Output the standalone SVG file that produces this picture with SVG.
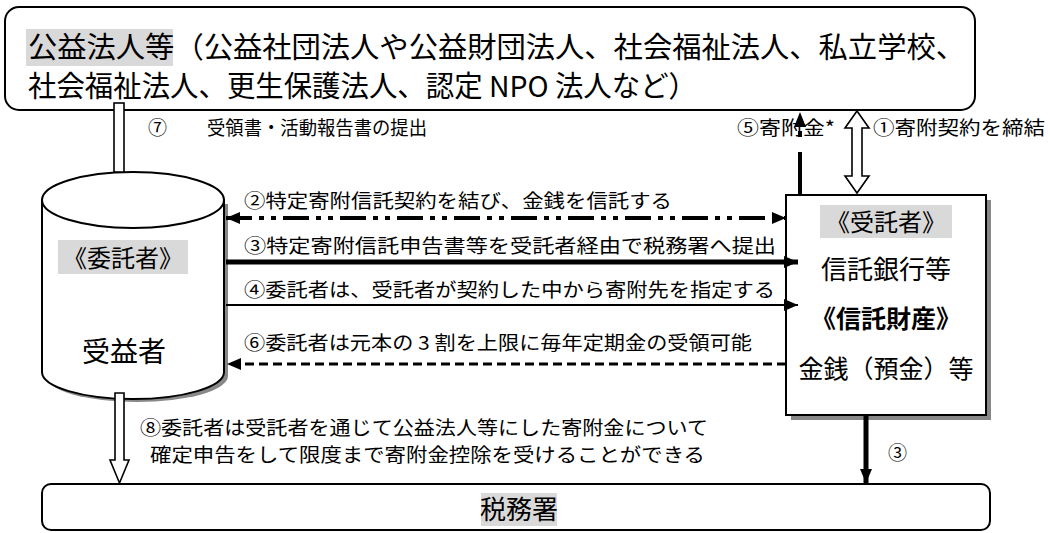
<svg xmlns="http://www.w3.org/2000/svg" width="1050" height="533" viewBox="0 0 1050 533">
<style>
text{font-family:"Noto Sans CJK JP","Noto Sans",sans-serif;fill:#000}
.lbl{font-size:19px}
.big{font-size:29px}
.box{fill:#fff;stroke:#000;stroke-width:2}
.hl{fill:#d9d9d9}
.sh{fill:#888}
.hollow{fill:#fff;stroke:#000;stroke-width:1.6}
</style>
<defs>
<marker id="ah" viewBox="0 0 14 12" refX="14" refY="6" markerWidth="14" markerHeight="12" markerUnits="userSpaceOnUse" orient="auto-start-reverse"><path d="M0,0 L14,6 L0,12 Z" fill="#000"/></marker>
</defs>

<g id="top-node">
<rect class="box" x="5" y="7" width="970" height="103" rx="14"/>
<rect class="hl" x="26" y="29" width="147" height="37"/>
<text class="big" x="28" y="58" textLength="937" lengthAdjust="spacingAndGlyphs">公益法人等（公益社団法人や公益財団法人、社会福祉法人、私立学校、</text>
<text class="big" x="28" y="97" textLength="669" lengthAdjust="spacingAndGlyphs">社会福祉法人、更生保護法人、認定 NPO 法人など）</text>
</g>

<g id="itakusha-node">
<path class="sh" d="M46,204 L46,376 A91,26 0 0 0 228,376 L228,204 Z"/>
<path class="box" d="M42,200 L42,372 A91,27 0 0 0 224,372 L224,200 Z"/>
<ellipse class="box" cx="133" cy="200" rx="91" ry="28"/>
<rect class="hl" x="58" y="240" width="130" height="34"/>
<text x="123" y="267" font-size="24" text-anchor="middle">《委託者》</text>
<text x="124" y="362" font-size="28" text-anchor="middle">受益者</text>
</g>

<g id="jutakusha-node">
<rect class="sh" x="791" y="200" width="200" height="220"/>
<rect class="box" x="786" y="195" width="200" height="220"/>
<rect class="hl" x="820" y="205" width="132" height="33"/>
<text x="886" y="231" font-size="24" text-anchor="middle">《受託者》</text>
<text x="886" y="279" font-size="26" text-anchor="middle">信託銀行等</text>
<text x="886" y="328" font-size="25" font-weight="bold" text-anchor="middle">《信託財産》</text>
<text x="886" y="378" font-size="25" text-anchor="middle">金銭（預金）等</text>
</g>

<g id="zeimusho-node">
<rect class="box" x="42" y="484" width="948" height="46" rx="9"/>
<rect class="hl" x="481" y="493" width="76" height="33"/>
<text x="519" y="519" font-size="26" text-anchor="middle">税務署</text>
</g>

<g id="connectors">
<!-- 7 pipe -->
<rect class="hollow" x="114" y="103" width="10" height="69"/>
<!-- 2 -->
<line x1="226" y1="218" x2="786" y2="218" stroke="#000" stroke-width="4" stroke-dasharray="26 7 5 7 5 7" marker-start="url(#ah)" marker-end="url(#ah)"/>
<!-- 3 -->
<line x1="226" y1="262" x2="798" y2="262" stroke="#000" stroke-width="5" marker-end="url(#ah)"/>
<!-- 4 -->
<line x1="226" y1="305" x2="798" y2="305" stroke="#000" stroke-width="2" marker-end="url(#ah)"/>
<!-- 6 -->
<line x1="786" y1="364" x2="227" y2="364" stroke="#000" stroke-width="3" stroke-dasharray="9 5" marker-end="url(#ah)"/>
<!-- 5 -->
<line x1="800" y1="195" x2="800" y2="152" stroke="#000" stroke-width="4"/>
<rect x="798" y="131" width="4" height="6" fill="#000"/>
<path d="M794,127 L800,112 L806,127 Z" fill="#000"/>
<!-- 1 double hollow arrow -->
<path class="hollow" d="M857,111 L869,128 L862,128 L862,176 L869,176 L857,193 L845,176 L852,176 L852,128 L845,128 Z"/>
<!-- 3 down -->
<line x1="866" y1="415" x2="866" y2="483" stroke="#000" stroke-width="5" marker-end="url(#ah)"/>
<!-- 8 hollow arrow -->
<path class="hollow" d="M115,393 L124,393 L124,460 L129,460 L119.5,483 L110,460 L115,460 Z"/>
</g>

<g id="labels" class="lbl">
<text class="lbl" x="148" y="135">⑦</text>
<text class="lbl" x="207" y="135" textLength="220" lengthAdjust="spacingAndGlyphs">受領書・活動報告書の提出</text>
<text class="lbl" x="737" y="135" textLength="98" lengthAdjust="spacingAndGlyphs">⑤寄附金*</text>
<text class="lbl" x="873" y="135" textLength="172" lengthAdjust="spacingAndGlyphs">①寄附契約を締結</text>
<text class="lbl" x="244" y="208" textLength="428" lengthAdjust="spacingAndGlyphs">②特定寄附信託契約を結び、金銭を信託する</text>
<text class="lbl" x="244" y="253" textLength="532" lengthAdjust="spacingAndGlyphs">③特定寄附信託申告書等を受託者経由で税務署へ提出</text>
<text class="lbl" x="244" y="297" textLength="531" lengthAdjust="spacingAndGlyphs">④委託者は、受託者が契約した中から寄附先を指定する</text>
<text class="lbl" x="244" y="350" textLength="508" lengthAdjust="spacingAndGlyphs">⑥委託者は元本の 3 割を上限に毎年定期金の受領可能</text>
<text class="lbl" x="140" y="435" textLength="568" lengthAdjust="spacingAndGlyphs">⑧委託者は受託者を通じて公益法人等にした寄附金について</text>
<text class="lbl" x="150" y="462" textLength="555" lengthAdjust="spacingAndGlyphs">確定申告をして限度まで寄附金控除を受けることができる</text>
<text class="lbl" x="888" y="460">③</text>
</g>
</svg>
